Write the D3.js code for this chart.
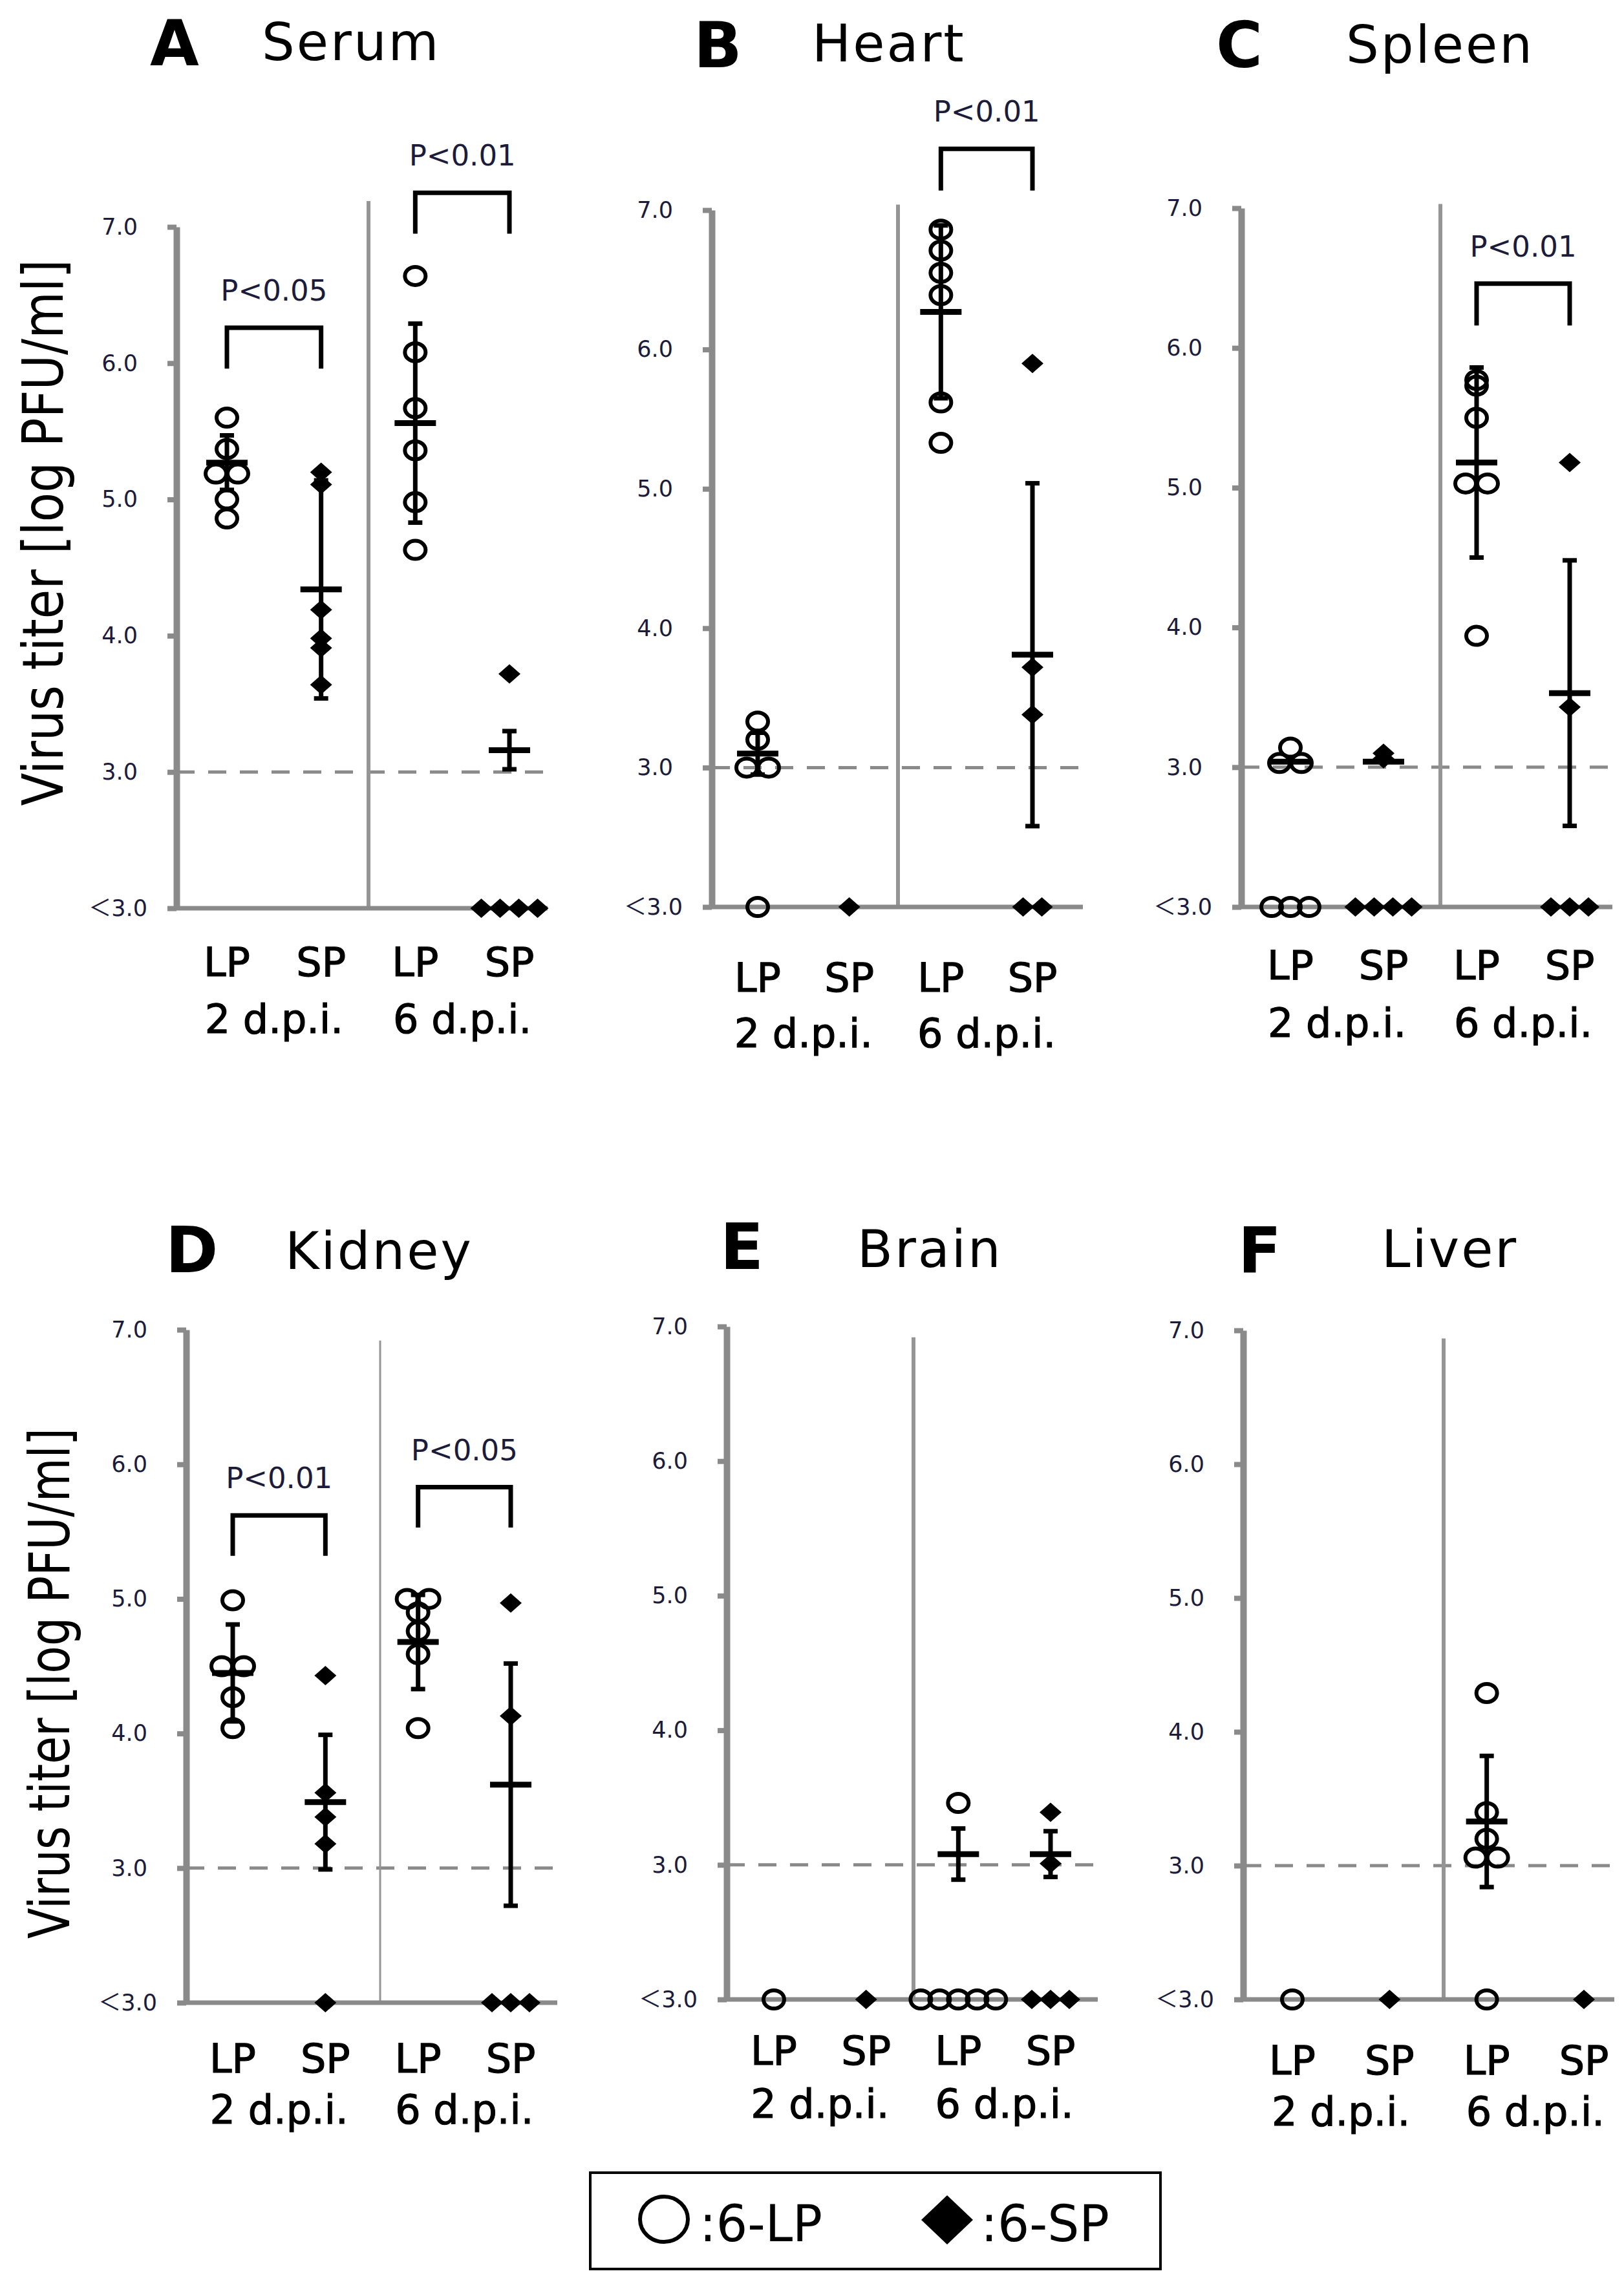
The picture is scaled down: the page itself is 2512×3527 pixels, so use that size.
<!DOCTYPE html>
<html>
<head>
<meta charset="utf-8">
<script src="https://cdn.jsdelivr.net/npm/d3@7/dist/d3.min.js"></script>
<style>
  body { margin: 0; background: #fff; }
  svg { display: block; }
</style>
</head>
<body>
<svg id="chart" width="2512" height="3527"></svg>
<script>
// ---- data (log PFU/ml, null = below detection "<3.0") ----
var panelLetters = ['A', 'B', 'C', 'D', 'E', 'F'];
var organs = ['Serum', 'Heart', 'Spleen', 'Kidney', 'Brain', 'Liver'];
var groups = ['LP-2', 'SP-2', 'LP-6', 'SP-6'];
var strains = ['LP', 'SP'];
var days = ['2 d.p.i.', '6 d.p.i.'];
var yTicks = [2, 3, 4, 5, 6, 7];
var yTickLabels = ['\uFF1C3.0', '3.0', '4.0', '5.0', '6.0', '7.0'];
var detectionLimit = 3.0;
var belowLimitLevel = 2;

var serumTiters = [[5.60, 5.37, 5.19, 5.19, 5.00, 4.86], [5.20, 5.11, 4.19, 3.98, 3.91, 3.64],
                   [6.64, 6.08, 5.67, 5.36, 4.98, 4.63], [3.72, null, null, null, null]];
var serumMeans = [5.27, 4.34, 5.56, 3.16];
var serumSDs = [0.20, 0.80, 0.73, 0.14];

var heartTiters = [[3.33, 3.20, 3.00, 3.00, null], [null],
                   [6.86, 6.71, 6.55, 6.39, 5.62, 5.33], [5.90, 3.72, 3.38, null, null]];
var heartMeans = [3.10, null, 6.27, 3.81];
var heartSDs = [0.15, null, 0.62, 1.23];

var spleenTiters = [[3.14, 3.03, 3.03, null, null, null], [3.10, 3.06, null, null, null, null],
                    [5.77, 5.73, 5.50, 5.03, 5.03, 3.94], [5.18, 3.43, null, null, null]];
var spleenMeans = [3.04, 3.04, 5.18, 3.53];
var spleenSDs = [0, 0, 0.68, 0.95];

var kidneyTiters = [[4.99, 4.50, 4.50, 4.27, 4.04], [4.43, 3.56, 3.38, 3.18, null],
                    [5.00, 5.00, 4.90, 4.76, 4.59, 4.04], [4.97, 4.13, null, null, null]];
var kidneyMeans = [4.45, 3.49, 4.68, 3.62];
var kidneySDs = [0.36, 0.50, 0.35, 0.90];

var brainTiters = [[null], [null], [3.46, null, null, null, null, null], [3.39, 3.01, null, null, null]];
var brainMeans = [null, null, 3.08, 3.08];
var brainSDs = [null, null, 0.19, 0.17];

var liverTiters = [[null], [null], [4.29, 3.40, 3.20, 3.06, 3.06, null], [null]];
var liverMeans = [null, null, 3.33, null];
var liverSDs = [null, null, 0.49, null];

var sigPanel = [0, 0, 1, 2, 3, 3];
var sigDay = [0, 1, 1, 1, 0, 1];
var sigLabel = ['P<0.05', 'P<0.01', 'P<0.01', 'P<0.01', 'P<0.01', 'P<0.05'];

var yTitle = 'Virus titer [log PFU/ml]';
var legendLabels = [':6-LP', ':6-SP'];

// ---- layout (pixels / value-levels of each panel) ----
var titers = [serumTiters, heartTiters, spleenTiters, kidneyTiters, brainTiters, liverTiters];
var means = [serumMeans, heartMeans, spleenMeans, kidneyMeans, brainMeans, liverMeans];
var sds = [serumSDs, heartSDs, spleenSDs, kidneySDs, brainSDs, liverSDs];
var sigLevel = [6.26, 7.25, 7.44, 6.46, 5.62, 5.83];

var layout = [
    {axisX: 273, yTop: 351, yBot: 1405, col0: 351, col3: 788, sepX: 570, sepTop: 7.19, sepW: 6,
     lpY: 1510, dpiY: 1598, letterX: 232, letterY: 101, nameX: 405, nameY: 93, yLabel: [66, 824, 845]},
    {axisX: 1101, yTop: 325, yBot: 1403, col0: 1172, col3: 1597, sepX: 1389, sepTop: 7.04, sepW: 6,
     lpY: 1534, dpiY: 1620, letterX: 1073, letterY: 104, nameX: 1256, nameY: 95},
    {axisX: 1920, yTop: 322, yBot: 1403, col0: 1996, col3: 2428, sepX: 2228, sepTop: 7.03, sepW: 6,
     lpY: 1515, dpiY: 1604, letterX: 1881, letterY: 104, nameX: 2082, nameY: 97},
    {axisX: 288, yTop: 2057, yBot: 3098, col0: 360, col3: 790, sepX: 588, sepTop: 6.92, sepW: 3,
     lpY: 3206, dpiY: 3285, letterX: 256, letterY: 1968, nameX: 441, nameY: 1963, yLabel: [76, 2604, 790]},
    {axisX: 1124, yTop: 2052, yBot: 3093, col0: 1197, col3: 1625, sepX: 1413, sepTop: 6.92, sepW: 6,
     lpY: 3194, dpiY: 3276, letterX: 1114, letterY: 1963, nameX: 1326, nameY: 1960},
    {axisX: 1923, yTop: 2058, yBot: 3093, col0: 1999, col3: 2450, sepX: 2233, sepTop: 6.94, sepW: 6,
     lpY: 3209, dpiY: 3288, letterX: 1915, letterY: 1968, nameX: 2137, nameY: 1960}
];

var GRAY = '#8a8a8a';
var svg = d3.select('#chart');
svg.append('rect').attr('width', 2512).attr('height', 3527).attr('fill', '#fff');

var diamond = function (hw, hh) {
    return 'M0,' + (-hh) + 'L' + hw + ',0L0,' + hh + 'L' + (-hw) + ',0Z';
};

// spread tied values sideways (beeswarm-like)
function spread(vals) {
    var out = vals.map(function () { return 0; });
    var clusters = [];
    vals.forEach(function (v, i) {
        var c = clusters.find(function (c) {
            return (v === null && c.v === null) || (v !== null && c.v !== null && Math.abs(c.v - v) < 0.03);
        });
        if (c) c.idx.push(i); else clusters.push({v: v, idx: [i]});
    });
    clusters.forEach(function (c) {
        var step = c.v === null ? 29 : 34;
        c.idx.forEach(function (ix, k) { out[ix] = (k - (c.idx.length - 1) / 2) * step; });
    });
    return out;
}

function drawPanel(p) {
    var L = layout[p];
    var g = svg.append('g').attr('class', 'panel-' + panelLetters[p]);
    var y = d3.scaleLinear().domain([belowLimitLevel, 7]).range([L.yBot, L.yTop]);
    var x = d3.scalePoint().domain(groups).range([L.col0, L.col3]);
    var xEnd = L.axisX + 574;

    // detection limit
    g.append('line')
        .attr('x1', L.axisX).attr('x2', xEnd)
        .attr('y1', y(detectionLimit)).attr('y2', y(detectionLimit))
        .attr('stroke', GRAY).attr('stroke-width', 5).attr('stroke-dasharray', '28,21');
    // separator between days
    g.append('line')
        .attr('x1', L.sepX).attr('x2', L.sepX)
        .attr('y1', y(L.sepTop)).attr('y2', L.yBot)
        .attr('stroke', '#959595').attr('stroke-width', L.sepW);
    // baseline
    g.append('line')
        .attr('x1', L.axisX).attr('x2', xEnd)
        .attr('y1', L.yBot).attr('y2', L.yBot)
        .attr('stroke', GRAY).attr('stroke-width', 7);

    var ax = g.append('g')
        .attr('transform', 'translate(' + L.axisX + ',0)')
        .call(d3.axisLeft(y).tickValues(yTicks)
            .tickFormat(function (d, k) { return yTickLabels[k]; })
            .tickSizeInner(14).tickSizeOuter(0).tickPadding(46));
    ax.select('.domain').attr('stroke', GRAY).attr('stroke-width', 10);
    ax.selectAll('.tick line').attr('stroke', GRAY).attr('stroke-width', 8);
    ax.selectAll('.tick text')
        .attr('fill', '#1c1c3a')
        .style('font-family', '"DejaVu Sans", "Noto Sans CJK JP", sans-serif')
        .style('font-size', '35px')
        .attr('x', function (d) { return d === belowLimitLevel ? -45 : -60; });

    // means and SD
    groups.forEach(function (gk, k) {
        var m = means[p][k], s = sds[p][k], cx = x(gk);
        if (m === null) return;
        if (s) {
            g.append('line').attr('x1', cx).attr('x2', cx)
                .attr('y1', y(m + s)).attr('y2', y(m - s))
                .attr('stroke', '#000').attr('stroke-width', 7);
            [m + s, m - s].forEach(function (v) {
                g.append('line').attr('x1', cx - 11).attr('x2', cx + 11)
                    .attr('y1', y(v)).attr('y2', y(v))
                    .attr('stroke', '#000').attr('stroke-width', 7);
            });
        }
        g.append('line').attr('x1', cx - 32).attr('x2', cx + 32)
            .attr('y1', y(m)).attr('y2', y(m))
            .attr('stroke', '#000').attr('stroke-width', 9);
    });

    // individual animals
    groups.forEach(function (gk, k) {
        var vals = titers[p][k];
        var offs = spread(vals);
        var pts = g.selectAll(null).data(vals.map(function (v, i) {
            return {v: v === null ? belowLimitLevel : v, dx: offs[i]};
        })).enter();
        if (k % 2 === 0) {
            pts.append('ellipse')
                .attr('cx', function (d) { return x(gk) + d.dx; })
                .attr('cy', function (d) { return y(d.v); })
                .attr('rx', 16).attr('ry', 14)
                .attr('fill', 'none').attr('stroke', '#000').attr('stroke-width', 6);
        } else {
            pts.append('path')
                .attr('d', diamond(17, 15))
                .attr('transform', function (d) { return 'translate(' + (x(gk) + d.dx) + ',' + y(d.v) + ')'; })
                .attr('fill', '#000');
        }
    });

    // significance brackets
    sigPanel.forEach(function (sp, i) {
        if (sp !== p) return;
        var xl = x(groups[sigDay[i] * 2]), xr = x(groups[sigDay[i] * 2 + 1]);
        var top = y(sigLevel[i]), bot = y(sigLevel[i] - 0.3);
        g.append('path')
            .attr('d', 'M' + xl + ',' + bot + 'V' + top + 'H' + xr + 'V' + bot)
            .attr('fill', 'none').attr('stroke', '#000').attr('stroke-width', 7);
        g.append('text')
            .attr('x', (xl + xr) / 2).attr('y', top - 42)
            .attr('text-anchor', 'middle')
            .style('font-family', '"DejaVu Sans", sans-serif').style('font-size', '45px')
            .attr('fill', '#1c1c3a')
            .text(sigLabel[i]);
    });

    // category labels
    groups.forEach(function (gk, k) {
        g.append('text').attr('x', x(gk)).attr('y', L.lpY)
            .attr('text-anchor', 'middle')
            .attr('stroke', '#000').attr('stroke-width', 1.2)
            .style('font-family', '"DejaVu Sans", sans-serif').style('font-size', '62px')
            .text(strains[k % 2]);
    });
    days.forEach(function (d, j) {
        g.append('text')
            .attr('x', (x(groups[j * 2]) + x(groups[j * 2 + 1])) / 2).attr('y', L.dpiY)
            .attr('text-anchor', 'middle')
            .attr('stroke', '#000').attr('stroke-width', 1.2)
            .style('font-family', '"DejaVu Sans", sans-serif').style('font-size', '62px')
            .text(d);
    });

    // panel title
    g.append('text').attr('x', L.letterX).attr('y', L.letterY)
        .style('font-family', '"DejaVu Sans", sans-serif').style('font-weight', 'bold')
        .style('font-size', '98px').text(panelLetters[p]);
    g.append('text').attr('x', L.nameX).attr('y', L.nameY)
        .style('font-family', '"DejaVu Sans", sans-serif').style('font-size', '80px')
        .style('letter-spacing', '3px').text(organs[p]);

    if (L.yLabel) {
        g.append('text')
            .attr('transform', 'translate(' + L.yLabel[0] + ',' + L.yLabel[1] + ') rotate(-90)')
            .attr('text-anchor', 'middle').attr('dominant-baseline', 'central')
            .attr('textLength', L.yLabel[2]).attr('lengthAdjust', 'spacingAndGlyphs')
            .style('font-family', '"Liberation Sans Narrow", "DejaVu Sans Condensed", sans-serif')
            .style('font-size', '88px')
            .text(yTitle);
    }
}

panelLetters.forEach(function (d, p) { drawPanel(p); });

// legend
var lg = svg.append('g').attr('class', 'legend');
lg.append('rect').attr('x', 913).attr('y', 3361).attr('width', 882).attr('height', 149)
    .attr('fill', 'none').attr('stroke', '#000').attr('stroke-width', 4);
lg.append('ellipse').attr('cx', 1027).attr('cy', 3433).attr('rx', 37).attr('ry', 35)
    .attr('fill', 'none').attr('stroke', '#000').attr('stroke-width', 6);
lg.append('path').attr('d', diamond(40, 38)).attr('transform', 'translate(1465,3434)').attr('fill', '#000');
[[1082, 190], [1517, 199]].forEach(function (pos, i) {
    lg.append('text').attr('x', pos[0]).attr('y', 3467)
        .attr('textLength', pos[1]).attr('lengthAdjust', 'spacingAndGlyphs')
        .style('font-family', '"Liberation Sans Narrow", "DejaVu Sans Condensed", sans-serif')
        .style('font-size', '78px')
        .text(legendLabels[i]);
});
</script>
</body>
</html>
